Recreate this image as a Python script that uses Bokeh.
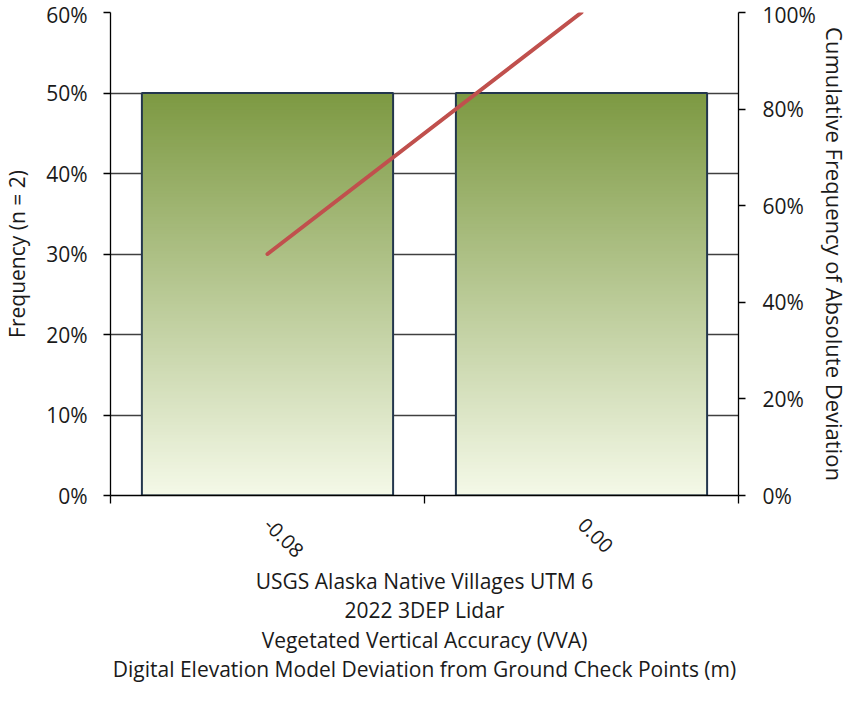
import math
from bokeh.plotting import figure
from bokeh.models import Range1d, LinearAxis, FixedTicker, NumeralTickFormatter, ColumnDataSource
from bokeh.embed import file_html
from bokeh.resources import INLINE

# ---- data ----
categories = ["-0.08", "0.00"]
frequency = [0.50, 0.50]          # left axis (Frequency, n = 2)
cumulative = [0.50, 1.00]         # right axis (cumulative frequency of absolute deviation)
left_ticks = [0.0, 0.1, 0.2, 0.3, 0.4, 0.5, 0.6]
right_ticks = [0.0, 0.2, 0.4, 0.6, 0.8, 1.0]
x_title = ("USGS Alaska Native Villages UTM 6\n2022 3DEP Lidar\n"
           "Vegetated Vertical Accuracy (VVA)\n"
           "Digital Elevation Model Deviation from Ground Check Points (m)")
y_title = "Frequency (n = 2)"
y2_title = "Cumulative Frequency of Absolute Deviation"

FONT = "Open Sans"
TXT = "#1a1a1a"
n = len(categories)
centers = [i + 0.5 for i in range(n)]
bar_w = 0.8

p = figure(width=852, height=686, output_backend="svg", toolbar_location=None,
           x_range=Range1d(0, n), y_range=Range1d(0, 0.6),
           min_border_left=105, min_border_right=109, min_border_top=12,
           min_border_bottom=188)
p.outline_line_color = None
p.background_fill_color = "white"
p.border_fill_color = "white"

# grid
p.xgrid.visible = False
p.ygrid.ticker = FixedTicker(ticks=left_ticks)
p.ygrid.grid_line_color = "#404040"
p.ygrid.grid_line_width = 1.3

# gradient bars (stacked slices of each bar, dark at top, light at bottom)
top_c = (0x7D, 0x99, 0x42)
bot_c = (0xF4, 0xF9, 0xE8)
N = 120
L, R, B, T, C = [], [], [], [], []
for c, v in zip(centers, frequency):
    for k in range(N):
        f = (k + 0.5) / N
        col = tuple(int(round(bot_c[j] + (top_c[j] - bot_c[j]) * f)) for j in range(3))
        L.append(c - bar_w / 2); R.append(c + bar_w / 2)
        B.append(v * k / N); T.append(min(v, v * (k + 1.6) / N))
        C.append("#%02x%02x%02x" % col)
p.quad(left="l", right="r", bottom="b", top="t", fill_color="c", line_color=None,
       source=ColumnDataSource(dict(l=L, r=R, b=B, t=T, c=C)))
p.quad(left=[c - bar_w / 2 for c in centers], right=[c + bar_w / 2 for c in centers],
       bottom=[0] * n, top=frequency, fill_color=None, line_color="#23364D", line_width=2)

# cumulative line on right axis
p.extra_y_ranges = {"cum": Range1d(0, 1)}
p.line(x=centers, y=cumulative, y_range_name="cum", line_color="#C0504D",
       line_width=4, line_cap="round")

def style(ax, fs="21px", lfs="21px"):
    ax.axis_line_color = "black"
    ax.axis_line_width = 1.3
    ax.major_tick_line_color = "black"
    ax.major_tick_line_width = 1.3
    ax.minor_tick_line_color = None
    ax.major_label_text_font = FONT
    ax.major_label_text_font_size = fs
    ax.major_label_text_color = TXT
    ax.axis_label_text_font = FONT
    ax.axis_label_text_font_size = lfs
    ax.axis_label_text_font_style = "normal"
    ax.axis_label_text_color = TXT

# x axis: labels at category centres, ticks at category boundaries
xa = p.xaxis[0]
style(xa, fs="20px", lfs="21px")
xa.ticker = FixedTicker(ticks=centers, minor_ticks=[float(i) for i in range(n + 1)])
xa.major_label_overrides = {c: lab for c, lab in zip(centers, categories)}
xa.major_tick_in = 0
xa.major_tick_out = 0
xa.minor_tick_line_color = "black"
xa.minor_tick_line_width = 1.3
xa.minor_tick_in = 0
xa.minor_tick_out = 8
xa.major_label_orientation = -math.pi / 4
xa.major_label_standoff = 18
xa.axis_label = x_title
xa.axis_label_standoff = 0
xa.axis_label_text_align = "center"
xa.axis_label_text_line_height = 1.05

# left y axis
ya = p.yaxis[0]
style(ya)
ya.ticker = FixedTicker(ticks=left_ticks)
ya.formatter = NumeralTickFormatter(format="0%")
ya.major_tick_in = 0
ya.major_tick_out = 7
ya.major_label_standoff = 16
ya.axis_label = y_title
ya.axis_label_standoff = 12

# right y axis
ra = LinearAxis(y_range_name="cum", ticker=FixedTicker(ticks=right_ticks),
                formatter=NumeralTickFormatter(format="0%"))
style(ra, fs="21px", lfs="22px")
ra.major_tick_in = 0
ra.major_tick_out = 7
ra.major_label_standoff = 17
ra.axis_label = y2_title
ra.axis_label_standoff = 1
p.add_layout(ra, "right")

open("out.html", "w").write(file_html(p, INLINE))
